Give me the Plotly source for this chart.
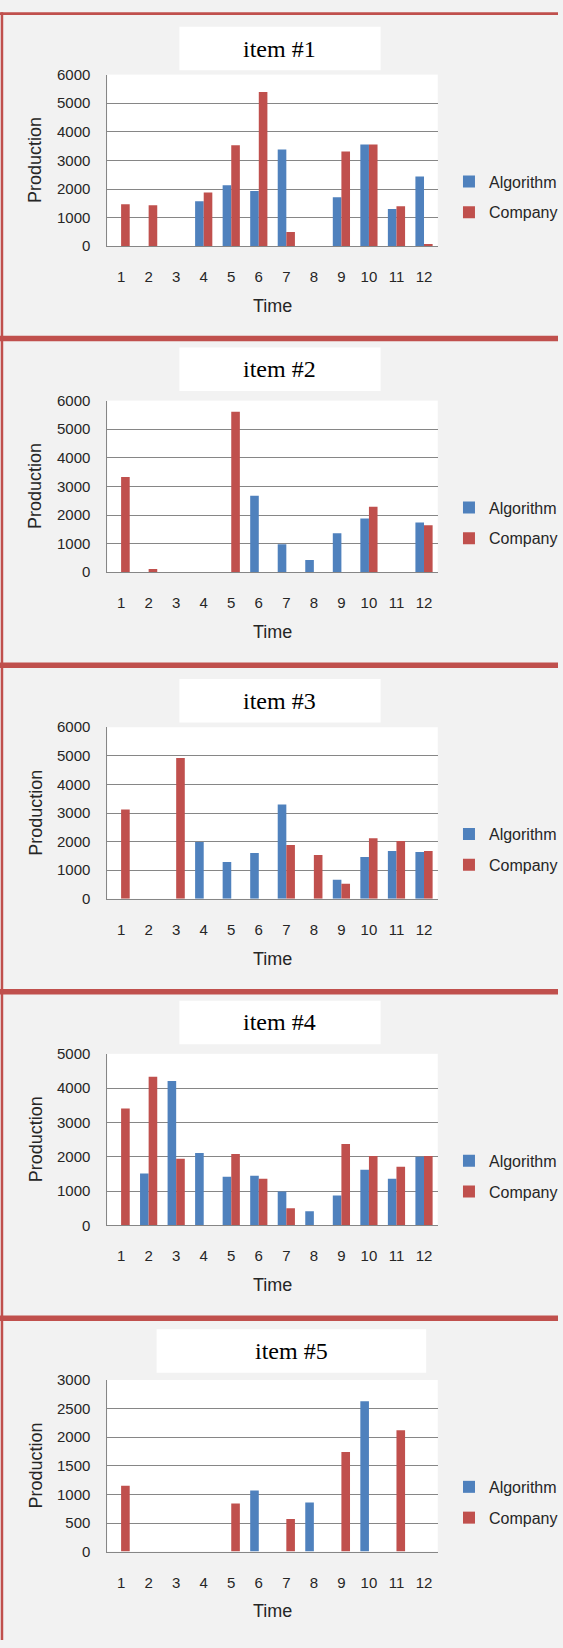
import plotly.graph_objects as go

# ---------------- data ----------------
time_labels = [str(m) for m in range(1, 13)]
item_titles = ["item #1", "item #2", "item #3", "item #4", "item #5"]
series_names = ["Algorithm", "Company"]

algorithm_1 = [0, 0, 0, 1570, 2130, 1930, 3380, 0, 1710, 3560, 1300, 2440]
company_1 = [1470, 1430, 0, 1880, 3530, 5390, 500, 0, 3310, 3560, 1400, 80]

algorithm_2 = [0, 0, 0, 0, 0, 2670, 980, 430, 1360, 1880, 0, 1740]
company_2 = [3330, 110, 0, 0, 5610, 0, 0, 0, 0, 2290, 0, 1640]

algorithm_3 = [0, 0, 0, 1990, 1290, 1600, 3300, 0, 670, 1460, 1670, 1640]
company_3 = [3120, 0, 4920, 0, 0, 0, 1880, 1530, 530, 2120, 2020, 1670]

algorithm_4 = [0, 1510, 4210, 2110, 1420, 1450, 990, 410, 870, 1620, 1360, 2000]
company_4 = [3410, 4330, 1940, 0, 2080, 1360, 500, 0, 2370, 2020, 1710, 2020]

algorithm_5 = [0, 0, 0, 0, 0, 1070, 0, 860, 0, 2630, 0, 0]
company_5 = [1150, 0, 0, 0, 840, 0, 570, 0, 1740, 0, 2120, 0]

y_max = [6000, 6000, 6000, 5000, 3000]
y_step = [1000, 1000, 1000, 1000, 500]

algorithms = [algorithm_1, algorithm_2, algorithm_3, algorithm_4, algorithm_5]
companies = [company_1, company_2, company_3, company_4, company_5]

# ---------------- layout geometry (pixels) ----------------
W, H = 563, 1648
BLUE = "#4F81BD"
RED = "#C0504D"
BG = "#F2F2F2"
GRID = "#868686"
TXT = "#262626"

plot_left, plot_right = 108.3, 441.7
plot_tops = [66.3, 395.7, 725.7, 1055.7, 1385.3]
plot_h = 173.4
border_ys = [4.7, 333, 663, 993, 1323]
border_ws = [2.8, 5.5, 5.5, 5.5, 5.5]
title_boxes = [(181, 18, 384, 62), (181, 342, 384, 386), (181, 677, 384, 721),
               (181, 1002, 384, 1046), (158, 1334, 430, 1378)]


def px_x(v):
    return v / W


def px_y(v):
    return 1 - v / H


fig = go.Figure()
shapes = []
annotations = []
layout = {}

for by, bw in zip(border_ys, border_ws):
    shapes.append(dict(type="line", xref="paper", yref="paper", x0=0, x1=1,
                       y0=px_y(by), y1=px_y(by), line=dict(color=RED, width=bw),
                       layer="above"))
shapes.append(dict(type="line", xref="paper", yref="paper", x0=px_x(2), x1=px_x(2),
                   y0=px_y(3.3), y1=0, line=dict(color=RED, width=2.5),
                   layer="above"))

for i in range(5):
    n = "" if i == 0 else str(i + 1)
    xa, ya = "x" + n, "y" + n
    top = plot_tops[i]
    bot = top + plot_h
    leg = "legend" + n
    fig.add_trace(go.Bar(x=time_labels, y=algorithms[i], name=series_names[0],
                         marker=dict(color=BLUE, line=dict(width=0)),
                         xaxis=xa, yaxis=ya, legend=leg,
                         legendgroup="a" + n))
    fig.add_trace(go.Bar(x=time_labels, y=companies[i], name=series_names[1],
                         marker=dict(color=RED, line=dict(width=0)),
                         xaxis=xa, yaxis=ya, legend=leg,
                         legendgroup="c" + n))
    layout["xaxis" + n] = dict(
        domain=[px_x(plot_left), px_x(plot_right)], anchor=ya, type="category",
        showline=True, linecolor=GRID, linewidth=1, showgrid=False,
        ticks="", ticklabelstandoff=17,
        tickfont=dict(family="Liberation Sans, Arial", size=15, color=TXT),
        fixedrange=True)
    layout["yaxis" + n] = dict(
        domain=[px_y(bot), px_y(top)], anchor=xa, range=[0, y_max[i]],
        dtick=y_step[i], tick0=0, showline=True, linecolor=GRID, linewidth=1,
        showgrid=True, gridcolor=GRID, gridwidth=1, zeroline=False,
        ticks="", ticklabelstandoff=13,
        tickfont=dict(family="Liberation Sans, Arial", size=15, color=TXT),
        fixedrange=True)
    layout[leg] = dict(
        x=px_x(453), y=px_y(bot - 49.7), xanchor="left", yanchor="middle",
        bgcolor="rgba(0,0,0,0)", borderwidth=0, tracegroupgap=7,
        traceorder="grouped",
        font=dict(family="Liberation Sans, Arial", size=16, color=TXT))
    bx0, by0, bx1, by1 = title_boxes[i]
    shapes.append(dict(type="rect", xref="paper", yref="paper",
                       x0=px_x(bx0), x1=px_x(bx1), y0=px_y(by1), y1=px_y(by0),
                       fillcolor="white", line=dict(width=0), layer="below"))
    annotations.append(dict(text=item_titles[i], xref="paper", yref="paper",
                            x=px_x((bx0 + bx1) / 2), y=px_y((by0 + by1) / 2),
                            xanchor="center", yanchor="middle", showarrow=False,
                            font=dict(family="Liberation Serif, Times New Roman",
                                      size=24, color="black")))
    annotations.append(dict(text="Production", xref="paper", yref="paper",
                            x=px_x(36), y=px_y(top + plot_h / 2), textangle=-90,
                            xanchor="center", yanchor="middle", showarrow=False,
                            font=dict(family="Liberation Sans, Arial", size=18,
                                      color=TXT)))
    annotations.append(dict(text="Time", xref="paper", yref="paper",
                            x=px_x((plot_left + plot_right) / 2),
                            y=px_y(bot + 60.5), xanchor="center",
                            yanchor="middle", showarrow=False,
                            font=dict(family="Liberation Sans, Arial", size=18,
                                      color=TXT)))

fig.update_layout(
    width=W, height=H, margin=dict(l=0, r=0, t=0, b=0),
    paper_bgcolor=BG, plot_bgcolor="white",
    barmode="group", bargap=0.375, bargroupgap=0,
    shapes=shapes, annotations=annotations, showlegend=True,
    **layout)

fig.write_html(
    "out.html",
    config={"displayModeBar": False, "staticPlot": True},
    post_script="document.body.style.margin='0';"
                "document.body.style.overflow='hidden';"
                "var d=document.getElementById('{plot_id}');"
                "d.style.position='fixed';d.style.top='0px';d.style.left='0px';")
